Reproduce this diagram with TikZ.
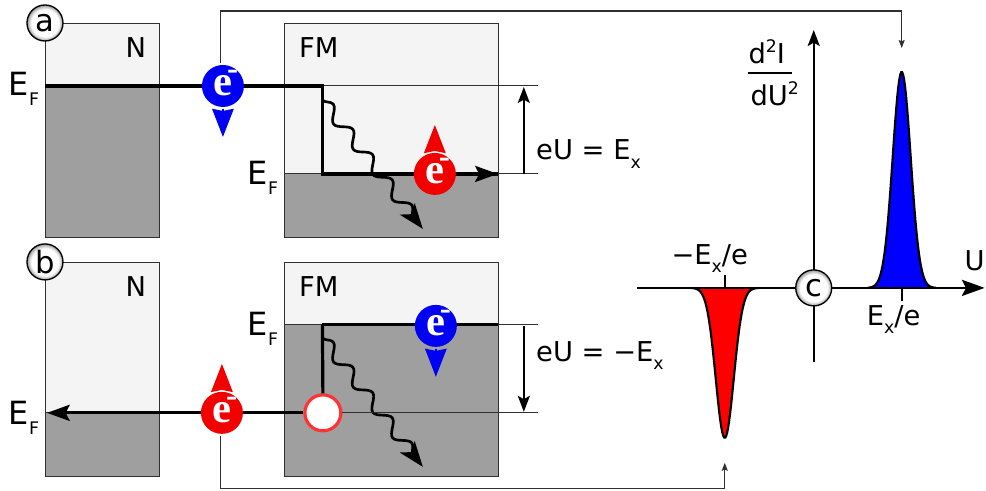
\documentclass[tikz,border=0pt]{standalone}
\usepackage{fontspec}
\setmainfont{DejaVu Sans}
\newfontfamily\electronfont{Liberation Serif}
\usepackage{tikz}
\usetikzlibrary{arrows.meta,decorations.pathmorphing}
\definecolor{bandcolor}{HTML}{F4F4F4}
\definecolor{filledcolor}{HTML}{9F9F9F}
\definecolor{edgecolor}{HTML}{303030}
\definecolor{spinblue}{rgb}{0,0,0.95}
\definecolor{spinred}{rgb}{0.95,0,0}
\definecolor{holecolor}{HTML}{FF3333}
\pgfdeclareradialshading{labelball}{\pgfpointorigin}{color(0bp)=(white);color(19bp)=(white);color(25bp)=(black!40);color(50bp)=(black!40)}
\newcommand{\lowidx}[1]{\raisebox{-.3em}{\fontsize{13}{14}\selectfont #1}}
\newcommand{\electron}{\fontsize{32}{32}\selectfont\bfseries\electronfont e\smash{\rlap{\kern-4pt\raisebox{12.5pt}{\fontsize{25}{25}\selectfont -}}}}

\begin{document}
\begin{tikzpicture}[x=0.75pt,y=-0.75pt,semithick]
  \tikzstyle{every node}=[inner sep=0pt,font=\fontsize{20.5}{24}\selectfont]
  \tikzstyle{label}=[circle,draw=black,line width=1pt,minimum size=27pt,shading=labelball,font=\fontsize{23}{24}\selectfont]
  \tikzstyle{spin}=[circle,minimum size=31.5pt,outer sep=1.5pt,text=white]
  \tikzstyle{spinarrow}=[line width=2pt,-{Stealth[length=21pt,width=16pt,inset=1.5pt]}]
  \tikzstyle{level}=[line width=2.4pt,line cap=butt]
  \tikzstyle{thin}=[line width=0.8pt,draw=edgecolor]
  \tikzstyle{bigarrow}=[line width=2pt,-{Stealth[length=17pt,width=12pt,inset=3pt]}]
  \tikzstyle{midarrow}=[line width=1.6pt,-{Stealth[length=12pt,width=9pt,inset=2.5pt]}]
  \tikzstyle{tinyarrow}=[thin,-{Stealth[length=6pt,width=4.5pt,inset=1pt]}]
  \tikzstyle{wavy}=[line width=2pt,-{Stealth[length=19pt,width=14pt,inset=5pt]},decorate,
                    decoration={snake,segment length=24pt,amplitude=4.5pt,post length=9pt}]
  \tikzstyle{peak}=[line width=1.6pt,draw=black]
  \tikzstyle{fermi}=[font=\fontsize{24}{26}\selectfont]

  % bands of panels a and b
  \draw[thin,fill=bandcolor] (45.5,23.5) rectangle (159.5,237.5);
  \draw[thin,fill=filledcolor] (45.5,86) rectangle (159.5,237.5);
  \draw[thin,fill=bandcolor] (284.5,23.5) rectangle (498.5,237.5);
  \draw[thin,fill=filledcolor] (284.5,174) rectangle (498.5,237.5);
  \draw[thin,fill=bandcolor] (45.5,262.5) rectangle (159.5,476.5);
  \draw[thin,fill=filledcolor] (45.5,413) rectangle (159.5,476.5);
  \draw[thin,fill=bandcolor] (284.5,262.5) rectangle (498.5,476.5);
  \draw[thin,fill=filledcolor] (284.5,325) rectangle (498.5,476.5);

  \coordinate (A1) at (45,86);
  \coordinate (A2) at (322.5,86);
  \coordinate (A3) at (322.5,174);
  \coordinate (A4) at (498,174);
  \coordinate (A5) at (538,86);
  \coordinate (A6) at (538,174);
  \coordinate (A7) at (524,174);
  \coordinate (A8) at (524,87);
  \coordinate (A9) at (322.5,100);
  \coordinate (A10) at (423,229);
  \coordinate (B1) at (47,413);
  \coordinate (B2) at (322.5,325);
  \coordinate (B3) at (498,325);
  \coordinate (B4) at (538,325);
  \coordinate (B5) at (538,413);
  \coordinate (B6) at (524,326);
  \coordinate (B7) at (524,412);
  \coordinate (B8) at (322.5,338);
  \coordinate (B9) at (423,467);

  \draw[thin] (A2) -- (A5);
  \draw[thin] (A3) -- (A6);
  \draw[thin] (B3) -- (B4);
  \draw[level,line join=miter] (A1) -- (A2) -- (A3) -- (A4);
  \draw[bigarrow,line width=2.4pt] (A3) -- (A4);
  \draw[level] (B2) -- (B3);
  \draw[midarrow] (A7) -- (A8);
  \draw[midarrow] (B6) -- (B7);
  \draw[wavy] (A9) -- (A10);
  \draw[wavy] (B8) -- (B9);

  \node[circle,draw=holecolor,fill=white,line width=2.4pt,minimum size=27pt] (H) at (323,413) {};
  \draw[bigarrow,line width=2.4pt] (H.west) -- (B1);
  \draw[thin] (H.east) -- (B5);
  \draw[level] (B2) -- (H.north);

  % electrons
  \node[spin,fill=spinblue] (E1) at (223,86) {\electron};
  \node[spin,fill=spinred]  (E2) at (435,174) {\electron};
  \node[spin,fill=spinblue] (E3) at (436,326) {\electron};
  \node[spin,fill=spinred]  (E4) at (222,413) {\electron};
  \coordinate (S1) at (223,137);
  \coordinate (S2) at (435,125);
  \coordinate (S3) at (436,377);
  \coordinate (S4) at (222,364);
  \draw[spinarrow,draw=spinblue,fill=spinblue] (E1) -- (S1);
  \draw[spinarrow,draw=spinred,fill=spinred] (E2) -- (S2);
  \draw[spinarrow,draw=spinblue,fill=spinblue] (E3) -- (S3);
  \draw[spinarrow,draw=spinred,fill=spinred] (E4) -- (S4);

  % spectrum
  \coordinate (P) at (902,288);
  \coordinate (Q) at (725,288);
  \draw[peak,fill=blue] plot[domain=-34:34,samples=70] ({902+\x},{288-216*exp(-(\x*\x)/162)});
  \draw[peak,fill=red] plot[domain=-34:34,samples=70] ({725+\x},{288+150*exp(-(\x*\x)/162)});
  \coordinate (X0) at (637,288);
  \coordinate (X1) at (985,288);
  \coordinate (Y0) at (814,362);
  \coordinate (Y1) at (814,30);
  \coordinate (T1) at (902,301);
  \coordinate (T2) at (725,275);
  \draw[bigarrow] (X0) -- (X1);
  \draw[midarrow] (Y0) -- (Y1);
  \draw[line width=1.4pt] (P) -- (T1);
  \draw[line width=1.4pt] (Q) -- (T2);

  % connectors to the peaks
  \coordinate (C1) at (221,11);
  \coordinate (C2) at (902,48);
  \coordinate (C3) at (221,489);
  \coordinate (C4) at (725,463);
  \draw[tinyarrow] (E1.north -| C1) -- (C1) -| (C2);
  \draw[tinyarrow] (E4.south -| C3) -- (C3) -| (C4);

  \node[label] (a) at (45,23) {a};
  \node[label] (b) at (45,262) {b};
  \node[label] (c) at (814,288) {c};

  \node (N1) at (136,48) {N};
  \node (F1) at (319,48) {FM};
  \node (N2) at (136,287) {N};
  \node (F2) at (319,287) {FM};
  \node[fermi] (EF1) at (24,89) {E\lowidx{F}};
  \node[fermi] (EF2) at (263,178) {E\lowidx{F}};
  \node[fermi] (EF3) at (263,329) {E\lowidx{F}};
  \node[fermi] (EF4) at (24,418) {E\lowidx{F}};
  \node[anchor=west] (U1) at (536,154) {eU = E\lowidx{x}};
  \node[anchor=west] (U2) at (536,356) {eU = −E\lowidx{x}};
  \node (M1) at (710,259) {−E\lowidx{x}/e};
  \node (M2) at (894,320) {E\lowidx{x}/e};
  \node (U) at (975,261) {U};
  \node (D1) at (767,52) {d\raisebox{.42em}{\fontsize{13}{13}\selectfont 2}I};
  \node (D2) at (775,94) {dU\raisebox{.42em}{\fontsize{13}{13}\selectfont 2}};
  \coordinate (L1) at (748,73);
  \coordinate (L2) at (792,73);
  \draw[thin,line width=1pt,draw=black] (L1) -- (L2);

  \useasboundingbox (0,0) rectangle (986,491);
\end{tikzpicture}
\end{document}
